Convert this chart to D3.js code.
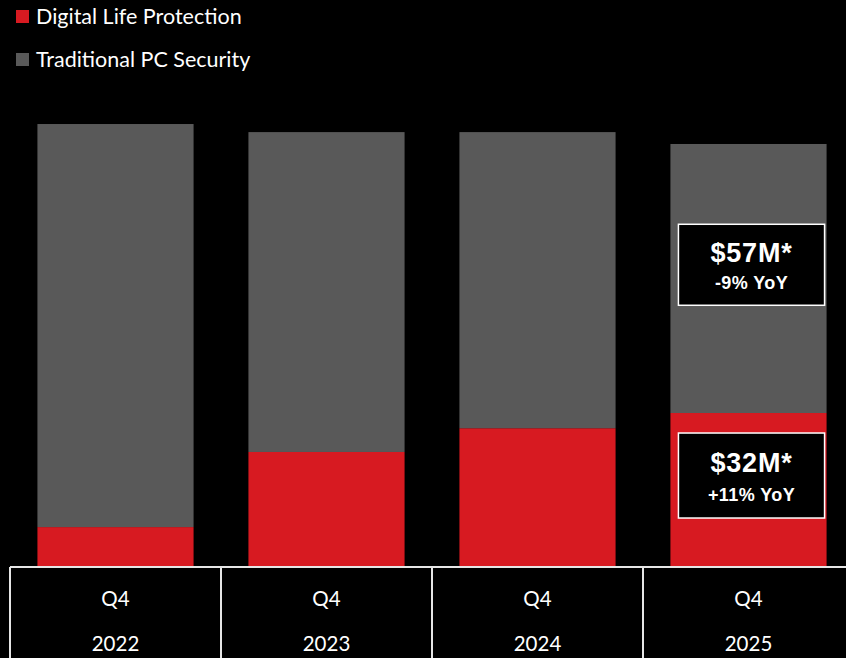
<!DOCTYPE html>
<html>
<head>
<meta charset="utf-8">
<script src="https://cdn.jsdelivr.net/npm/d3@7"></script>
<style>
  html, body { margin: 0; padding: 0; background: #000; }
  svg { display: block; }
</style>
</head>
<body>
<div id="chart"></div>
<script>
var width = 846,
    height = 658,
    baseY = 567,
    tableLeft = 10,
    cellW = 211;

// data
var quarters = ["Q4", "Q4", "Q4", "Q4"];
var years = ["2022", "2023", "2024", "2025"];
var digitalLife = [8.4, 24.2, 29.2, 32.4];
var traditionalPC = [84.8, 67.3, 62.3, 56.6];
var seriesNames = ["Digital Life Protection", "Traditional PC Security"];
var seriesColors = ["#d71a21", "#595959"];
var calloutMain = ["$57M*", "$32M*"];
var calloutSub = ["-9% YoY", "+11% YoY"];

var rows = years.map(function(y, i) {
    return {year: y, digital: digitalLife[i], traditional: traditionalPC[i]};
});

var svg = d3.select("#chart").append("svg")
    .attr("width", width)
    .attr("height", height)
    .style("background", "#000");

var x = d3.scaleBand()
    .domain(years)
    .range([tableLeft, tableLeft + cellW * years.length])
    .paddingInner(0.26)
    .paddingOuter(0.13);

var y = d3.scaleLinear()
    .domain([0, 100])
    .range([baseY, baseY - 475.3]);

var stack = d3.stack().keys(["digital", "traditional"]);
var layers = stack(rows);

svg.selectAll(".layer")
    .data(layers)
    .enter().append("g")
    .attr("class", "layer")
    .attr("fill", function(d, i) { return seriesColors[i]; })
    .selectAll("rect")
    .data(function(d) { return d; })
    .enter().append("rect")
    .attr("x", function(d) { return x(d.data.year); })
    .attr("width", x.bandwidth())
    .attr("y", function(d) { return y(d[1]); })
    .attr("height", function(d) { return y(d[0]) - y(d[1]); });

// legend
var legend = svg.append("g").selectAll("g")
    .data(seriesNames)
    .enter().append("g")
    .attr("transform", function(d, i) { return "translate(16," + (10 + i * 43) + ")"; });

legend.append("rect")
    .attr("width", 13)
    .attr("height", 13)
    .attr("fill", function(d, i) { return seriesColors[i]; });

legend.append("text")
    .attr("x", 20)
    .attr("y", 14)
    .attr("fill", "#fff")
    .style("font-family", "Lato, 'Open Sans', sans-serif")
    .style("font-size", "21.5px")
    .text(function(d) { return d; });

// callouts on last bar
var last = rows[rows.length - 1];
var boxX = x(last.year) + 8,
    boxW = x.bandwidth() - 10;
var callouts = [
    {cy: y(last.digital + last.traditional * 0.551), h: 81},
    {cy: y(last.digital * 0.594), h: 85}
];

var cg = svg.append("g").selectAll("g")
    .data(callouts)
    .enter().append("g")
    .attr("transform", function(d) { return "translate(" + boxX + "," + (d.cy - d.h / 2) + ")"; });

cg.append("rect")
    .attr("width", boxW)
    .attr("height", function(d) { return d.h; })
    .attr("fill", "#000")
    .attr("stroke", "#fff")
    .attr("stroke-width", 1.5);

cg.append("text")
    .attr("x", boxW / 2)
    .attr("y", function(d, i) { return d.h / 2 - (i ? 3.5 : 2.5); })
    .attr("text-anchor", "middle")
    .attr("fill", "#fff")
    .style("font-family", "'Liberation Sans', Arial, sans-serif")
    .style("font-weight", "bold")
    .style("font-size", "27px")
    .style("letter-spacing", "0.8px")
    .text(function(d, i) { return calloutMain[i]; });

cg.append("text")
    .attr("x", boxW / 2)
    .attr("y", function(d, i) { return d.h / 2 + (i ? 25.5 : 24.5); })
    .attr("text-anchor", "middle")
    .attr("fill", "#fff")
    .style("font-family", "'Liberation Sans', Arial, sans-serif")
    .style("font-weight", "bold")
    .style("font-size", "18px")
    .style("letter-spacing", "0.4px")
    .text(function(d, i) { return calloutSub[i]; });

// category table
var table = svg.append("g");

table.append("line")
    .attr("x1", tableLeft)
    .attr("x2", tableLeft + cellW * years.length)
    .attr("y1", baseY)
    .attr("y2", baseY)
    .attr("stroke", "#e6e6e6")
    .attr("stroke-width", 2);

var cells = table.selectAll(".cell")
    .data(years)
    .enter().append("g")
    .attr("class", "cell")
    .attr("transform", function(d, i) { return "translate(" + (tableLeft + i * cellW) + ",0)"; });

cells.append("line")
    .attr("x1", 0).attr("x2", 0)
    .attr("y1", baseY).attr("y2", height)
    .attr("stroke", "#e6e6e6")
    .attr("stroke-width", 2);

cells.append("text")
    .attr("x", cellW / 2)
    .attr("y", 606)
    .attr("text-anchor", "middle")
    .attr("fill", "#fff")
    .style("font-family", "Lato, 'Open Sans', sans-serif")
    .style("font-size", "20.5px")
    .text(function(d, i) { return quarters[i]; });

cells.append("text")
    .attr("x", cellW / 2)
    .attr("y", 651)
    .attr("text-anchor", "middle")
    .attr("fill", "#fff")
    .style("font-family", "Lato, 'Open Sans', sans-serif")
    .style("font-size", "20.5px")
    .text(function(d) { return d; });
</script>
</body>
</html>
